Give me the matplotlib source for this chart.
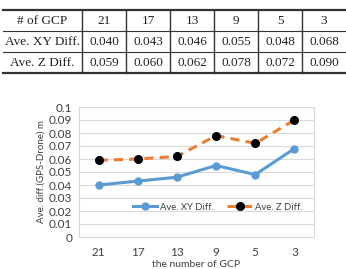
import numpy as np
import matplotlib.pyplot as plt

gcp = ['21', '17', '13', '9', '5', '3']
xy_diff = [0.040, 0.043, 0.046, 0.055, 0.048, 0.068]
z_diff = [0.059, 0.060, 0.062, 0.078, 0.072, 0.090]
row_names = ['# of GCP', 'Ave. XY Diff.', 'Ave. Z Diff.']

W, H = 346, 269
fig = plt.figure(figsize=(W / 100, H / 100), dpi=100)

# ---- table on top (pixel coords) ----
tax = fig.add_axes([0, 0, 1, 1])
tax.set_xlim(0, W)
tax.set_ylim(H, 0)
tax.axis('off')

col_edges = [3, 82, 126, 170, 214, 258, 302, 346]
row_edges = [10, 31, 52, 73]
for i, y in enumerate(row_edges):
    lw = 1.6 if i in (0, len(row_edges) - 1) else 0.8
    tax.plot([col_edges[0], col_edges[-1]], [y, y], color='#333333', lw=lw)
for x in col_edges[1:-1]:
    tax.plot([x, x], [row_edges[0], row_edges[-1]], color='#333333', lw=1.0)

rows = [gcp, ['%.3f' % v for v in xy_diff], ['%.3f' % v for v in z_diff]]
for r, (name, vals) in enumerate(zip(row_names, rows)):
    yc = (row_edges[r] + row_edges[r + 1]) / 2
    cells = [name] + list(vals)
    for c, txt in enumerate(cells):
        xc = (col_edges[c] + col_edges[c + 1]) / 2
        tax.text(xc, yc + 0.5, txt, ha='center', va='center', fontsize=9.5,
                 family=['Liberation Serif', 'DejaVu Serif'], color='#222222')

# ---- line chart ----
ax = fig.add_axes([79 / W, 1 - 237 / H, 235 / W, 130 / H])
x = np.arange(len(gcp))
ax.plot(x, xy_diff, color='#5b9bd5', lw=2.2, marker='o', ms=5,
        label='Ave. XY Diff.')
ax.plot(x, z_diff, color='#ed7d31', lw=2.2, ls=(0, (3, 2)), marker='o',
        ms=5.5, mfc='black', mec='black', label='Ave. Z Diff.')

ax.set_xlim(-0.5, len(gcp) - 0.5)
ax.set_ylim(0, 0.1)
ax.set_yticks(np.arange(0, 0.101, 0.01))
ax.set_yticklabels(['0'] + ['%.2f' % v for v in np.arange(0.01, 0.095, 0.01)] + ['0.1'])
ax.set_xticks(x)
ax.set_xticklabels(gcp)
ax.grid(axis='y', color='#d9d9d9', lw=0.8)
ax.set_axisbelow(True)
for s in ax.spines.values():
    s.set_color('#d9d9d9')
    s.set_linewidth(0.8)
ax.tick_params(length=0, labelsize=8.5, colors='#404040', pad=5)
for lab in ax.get_xticklabels() + ax.get_yticklabels():
    lab.set_family('Lato')
ax.tick_params(axis='x', pad=7)
ax.set_xlabel('the number of GCP', fontsize=7.5, color='#404040',
              family='Lato', labelpad=1.5)
ax.set_ylabel('Ave. diff.(GPS-Drone) m', fontsize=7, color='#404040',
              family='Lato', labelpad=2)
ax.legend(loc='center', bbox_to_anchor=(0.59, 0.23), ncol=2, frameon=False,
          prop={'family': 'Lato', 'size': 6.8}, handlelength=2.6,
          columnspacing=1.4, handletextpad=0.3, labelcolor='#404040')

fig.savefig('out.png', dpi=100)
